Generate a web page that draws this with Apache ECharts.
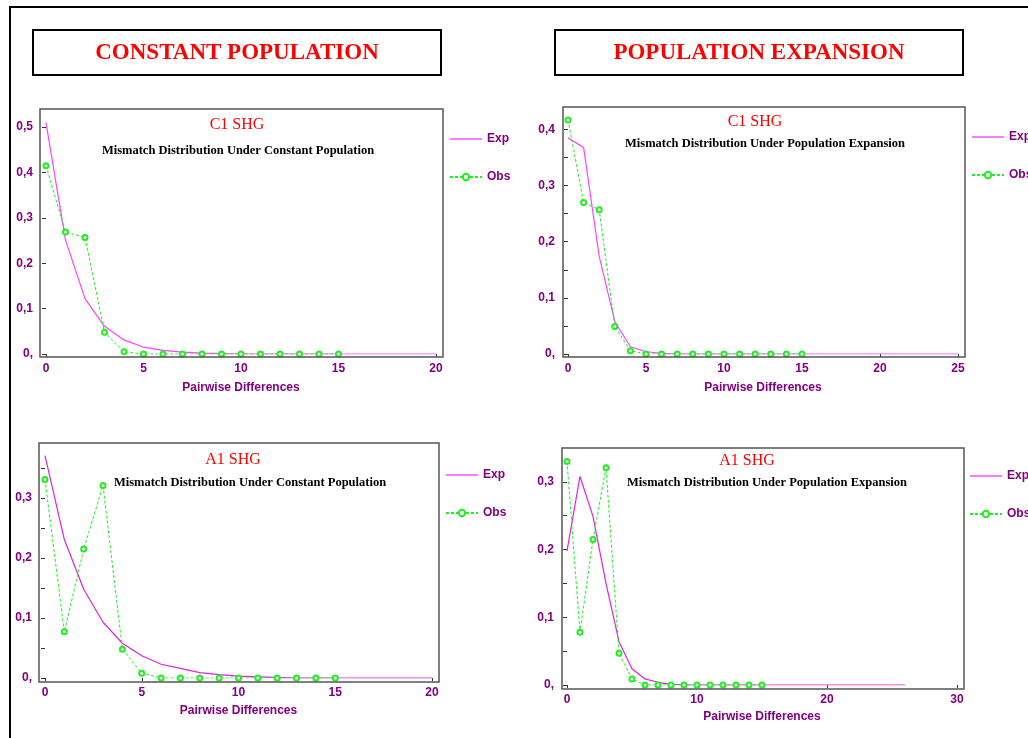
<!DOCTYPE html>
<html>
<head>
<meta charset="utf-8">
<script src="https://cdn.jsdelivr.net/npm/echarts@6/dist/echarts.min.js"></script>
<style>
  html, body { margin: 0; padding: 0; background: #fff; }
  #main { width: 1028px; height: 738px; }
</style>
</head>
<body>
<div id="main"></div>
<script>
// 数据
var expC1Const = [0.51, 0.251, 0.122, 0.061, 0.031, 0.015, 0.008, 0.004, 0.002, 0.001, 0, 0, 0, 0, 0, 0, 0, 0, 0, 0, 0];
var obsC1Const = [0.415, 0.269, 0.257, 0.048, 0.005, 0, 0, 0, 0, 0, 0, 0, 0, 0, 0, 0];
var expC1Exp = [0.385, 0.368, 0.174, 0.058, 0.013, 0.004, 0.001, 0, 0, 0, 0, 0, 0, 0, 0, 0, 0, 0, 0, 0, 0, 0, 0, 0, 0, 0];
var obsC1Exp = [0.417, 0.270, 0.257, 0.049, 0.006, 0, 0, 0, 0, 0, 0, 0, 0, 0, 0, 0];
var expA1Const = [0.371, 0.231, 0.148, 0.093, 0.058, 0.037, 0.023, 0.016, 0.009, 0.0055, 0.003, 0.002, 0.001, 0, 0, 0, 0, 0, 0, 0, 0];
var obsA1Const = [0.331, 0.077, 0.215, 0.321, 0.048, 0.008, 0, 0, 0, 0, 0, 0, 0, 0, 0, 0];
var expA1Exp = [0.198, 0.308, 0.249, 0.150, 0.064, 0.024, 0.009, 0.004, 0.001, 0, 0, 0, 0, 0, 0, 0, 0, 0, 0, 0, 0, 0, 0, 0, 0, 0, 0];
var obsA1Exp = [0.330, 0.078, 0.215, 0.321, 0.047, 0.009, 0, 0, 0, 0, 0, 0, 0, 0, 0, 0];

var headers = ['CONSTANT POPULATION', 'POPULATION EXPANSION'];
var panelTitles = ['C1 SHG', 'C1 SHG', 'A1 SHG', 'A1 SHG'];
var subTitles = ['Mismatch Distribution Under Constant Population', 'Mismatch Distribution Under Population Expansion',
                 'Mismatch Distribution Under Constant Population', 'Mismatch Distribution Under Population Expansion'];
var xMax = [20, 25, 20, 30];
var xInterval = [5, 5, 5, 10];
var yMax = [0.54, 0.44, 0.392, 0.35];
var yInterval = [0.1, 0.05, 0.05, 0.05];

var expData = [expC1Const, expC1Exp, expA1Const, expA1Exp];
var obsData = [obsC1Const, obsC1Exp, obsA1Const, obsA1Exp];

// 布局
var grids = [
    {left: 46, top: 109, width: 390, height: 245},
    {left: 568, top: 107, width: 390, height: 247},
    {left: 45, top: 443, width: 387, height: 235},
    {left: 567, top: 448, width: 390, height: 237}
];
var frames = [
    {x: 40, y: 109, width: 403, height: 248},
    {x: 563, y: 107, width: 402, height: 250},
    {x: 39, y: 443, width: 400, height: 239},
    {x: 562, y: 448, width: 402, height: 241}
];
var titlePos = [[237, 117, 238, 144], [755, 114, 765, 137], [233, 452, 250, 476], [747, 453, 767, 476]];
var legendPos = [[449, 133], [971, 131], [445, 469], [969, 470]];
var nameGaps = [25, 25, 24, 23];
var expColors = ['#ff44ff', '#ff44ff', '#e022e0', '#e022e0'];

var purple = '#800080';
var sansBold = {color: purple, fontFamily: 'Liberation Sans', fontWeight: 'bold', fontSize: 12};
var lineIcon = 'path://M0,0 L32,0 L32,1.4 L0,1.4 Z';

function yfmt(v) {
    if (Math.abs(v) < 1e-9) return '0,';
    if (Math.round(v * 100) % 10 !== 0) return '';
    return v.toFixed(1).replace('.', ',');
}

var option = {
    backgroundColor: '#fff',
    animation: false,
    title: [],
    legend: [],
    grid: [],
    xAxis: [],
    yAxis: [],
    series: [],
    graphic: []
};

// 外框和大标题
option.graphic.push({
    type: 'rect', shape: {x: 10, y: 7, width: 1040, height: 760},
    style: {fill: 'none', stroke: '#000', lineWidth: 2}
});
[[33, 30], [555, 30]].forEach(function (p, i) {
    option.graphic.push({
        type: 'rect', shape: {x: p[0], y: p[1], width: 408, height: 45},
        style: {fill: '#fff', stroke: '#000', lineWidth: 2}
    });
    option.graphic.push({
        type: 'text', x: p[0] + 204, y: p[1] + 23,
        style: {text: headers[i], fill: '#ff0000', font: 'bold 23px "Liberation Serif"',
                textAlign: 'center', textVerticalAlign: 'middle'}
    });
});

for (var i = 0; i < 4; i++) {
    option.graphic.push({
        type: 'rect', shape: frames[i],
        style: {fill: 'none', stroke: '#555', lineWidth: 1.5}, z: 10
    });
    option.grid.push(grids[i]);
    option.title.push({
        text: panelTitles[i], left: titlePos[i][0], top: titlePos[i][1], textAlign: 'center', padding: 0,
        textStyle: {color: '#ff0000', fontFamily: 'Liberation Serif', fontWeight: 'normal', fontSize: 16}
    });
    option.title.push({
        text: subTitles[i], left: titlePos[i][2], top: titlePos[i][3], textAlign: 'center', padding: 0,
        textStyle: {color: '#000', fontFamily: 'Liberation Serif', fontWeight: 'bold', fontSize: 12.5}
    });
    option.legend.push({
        data: [{name: 'Exp', icon: lineIcon}, {name: 'Obs'}],
        orient: 'vertical', left: legendPos[i][0], top: legendPos[i][1],
        padding: 0, itemWidth: 32, itemHeight: 8, itemGap: 26,
        textStyle: sansBold, selectedMode: false
    });
    option.xAxis.push({
        type: 'value', gridIndex: i, min: 0, max: xMax[i], interval: xInterval[i], offset: 3,
        name: 'Pairwise Differences', nameLocation: 'middle', nameGap: nameGaps[i],
        nameTextStyle: sansBold,
        axisLine: {show: false},
        axisTick: {show: true, length: 3, lineStyle: {color: '#333'}},
        axisLabel: Object.assign({margin: 6}, sansBold),
        splitLine: {show: false}
    });
    option.yAxis.push({
        type: 'value', gridIndex: i, min: 0, max: yMax[i], interval: yInterval[i], offset: 6,
        axisLine: {show: false},
        axisTick: {show: true, length: 4, lineStyle: {color: '#333'}},
        axisLabel: Object.assign({margin: 7, formatter: yfmt, showMaxLabel: false}, sansBold),
        splitLine: {show: false}
    });
    option.series.push({
        name: 'Exp', type: 'line', xAxisIndex: i, yAxisIndex: i,
        data: expData[i].map(function (v, k) { return [k, v]; }),
        symbol: 'none', lineStyle: {color: expColors[i], width: 1.2}, itemStyle: {color: expColors[i]}
    });
    option.series.push({
        name: 'Obs', type: 'line', xAxisIndex: i, yAxisIndex: i,
        data: obsData[i].map(function (v, k) { return [k, v]; }),
        symbol: 'emptyCircle', symbolSize: 5,
        lineStyle: {color: '#22ee22', width: 1, type: [3, 2]},
        itemStyle: {color: '#22ee22', borderWidth: 1}
    });
}

var chart = echarts.init(document.getElementById('main'));
chart.setOption(option);
</script>
</body>
</html>
